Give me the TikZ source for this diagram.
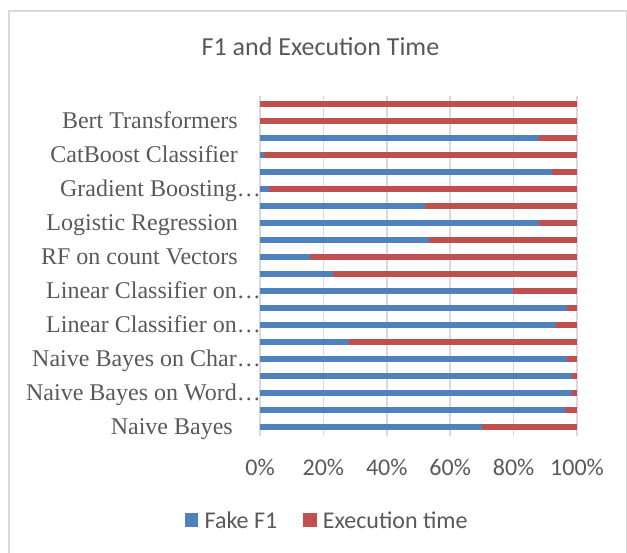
\documentclass[tikz,border=0pt]{standalone}
\usepackage{fontspec}
\setmainfont{Liberation Serif}
\newfontfamily\calib{Carlito}
\definecolor{txtgray}{HTML}{595959}
\definecolor{gridgray}{HTML}{D9D9D9}
\definecolor{barblue}{HTML}{4F81BD}
\definecolor{barred}{HTML}{C0504D}
\begin{document}
\begin{tikzpicture}[x=1pt,y=-1pt,
  catlabel/.style={anchor=base east,inner sep=0pt,text=txtgray,font=\fontsize{24}{28}\selectfont},
  ticklabel/.style={anchor=center,inner sep=0pt,text=txtgray,font=\calib\fontsize{24}{28}\selectfont},
  legtext/.style={anchor=west,inner sep=0pt,text=txtgray,font=\calib\fontsize{24}{28}\selectfont},
  gridline/.style={draw=gridgray,line width=1.5pt},
  frame/.style={draw=gridgray,line width=1.5pt}]
\useasboundingbox (0,0) rectangle (627,552);
\begin{scope}
\clip (0,0) rectangle (627,552);
\draw[frame] (9,11) rectangle (626.5,570);
\end{scope}
% title
\node[text=txtgray,font=\calib\fontsize{26}{30}\selectfont,inner sep=0pt,anchor=center] (title) at (320.5,47) {F1 and Execution Time};
% gridlines
\foreach \k in {0,...,5} {
  \pgfmathsetmacro\gx{260+63.4*\k}
  \draw[gridline] (\gx,96) -- (\gx,435.5);
  \pgfmathtruncatemacro\pc{20*\k}
  \node[ticklabel] (tick\k) at (\gx,467) {\pc\%};
}
% bars
\foreach \f [count=\i] in {0,0,0.881,0.013,0.922,0.027,0.522,0.881,0.532,0.158,0.230,0.798,0.970,0.935,0.281,0.970,0.985,0.985,0.963,0.701} {
  \pgfmathsetmacro\ya{104+(\i-1)*17-2.8}
  \pgfmathsetmacro\yb{104+(\i-1)*17+2.8}
  \pgfmathsetmacro\xb{260+317*\f}
  \fill[barblue] (260,\ya) rectangle (\xb,\yb);
  \fill[barred] (\xb,\ya) rectangle (577,\yb);
}
% category labels (baseline = bar centre + 7.9)
\node[catlabel] (l1) at (238,128.9) {Bert Transformers};
\node[catlabel] (l2) at (238,162.9) {CatBoost Classifier};
\node[catlabel] (l3) at (261,196.9) {Gradient Boosting…};
\node[catlabel] (l4) at (238,230.9) {Logistic Regression};
\node[catlabel] (l5) at (238,264.9) {RF on count Vectors};
\node[catlabel] (l6) at (261,298.9) {Linear Classifier on…};
\node[catlabel] (l7) at (261,332.9) {Linear Classifier on…};
\node[catlabel] (l8) at (261,366.9) {Naive Bayes on Char…};
\node[catlabel] (l9) at (261,400.9) {Naive Bayes on Word…};
\node[catlabel] (l10) at (233,434.9) {Naive Bayes};
% legend
\fill[barblue] (184.7,513.3) rectangle (198.2,526.8);
\node[legtext] (leg1) at (204.5,520) {Fake F1};
\fill[barred] (303.3,513.3) rectangle (316.8,526.8);
\node[legtext] (leg2) at (322.7,520) {Execution time};
\end{tikzpicture}
\end{document}
